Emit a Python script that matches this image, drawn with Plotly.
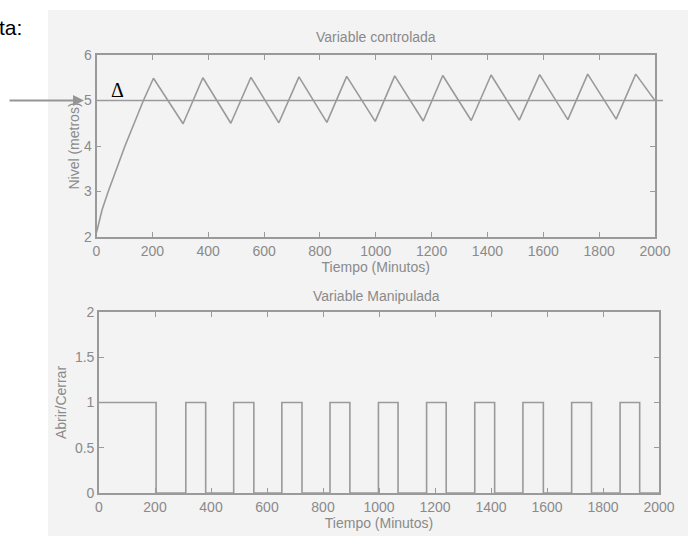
import plotly.graph_objects as go

W, H = 688, 536

# ---- data ----
t_level = [0, 20, 42, 102, 168, 204, 310, 381, 481, 553, 653, 725, 825, 896,
           998, 1068, 1170, 1240, 1342, 1413, 1514, 1587, 1688, 1759, 1861, 1931, 2000]
level = [2.1, 2.6, 3.0, 4.0, 5.0, 5.49, 4.49, 5.50, 4.50, 5.51, 4.51, 5.52, 4.52, 5.53,
         4.54, 5.54, 4.55, 5.55, 4.56, 5.56, 4.57, 5.57, 4.58, 5.58, 4.59, 5.58, 5.0]
setpoint = 5

t_valve = [0, 204, 310, 381, 481, 553, 653, 725, 825, 896, 998, 1068, 1170, 1240,
           1342, 1413, 1514, 1587, 1688, 1759, 1861, 1931, 2000]
valve = [1, 0, 1, 0, 1, 0, 1, 0, 1, 0, 1, 0, 1, 0, 1, 0, 1, 0, 1, 0, 1, 0, 0]

x_ticks = [0, 200, 400, 600, 800, 1000, 1200, 1400, 1600, 1800, 2000]
y1_ticks = [2, 3, 4, 5, 6]
y2_ticks = [0, 0.5, 1, 1.5, 2]
y2_labels = ["0", "0.5", "1", "1.5", "2"]

LINE = "#9a9a9a"
TXT = "#8a8a8a"
FONT = "Liberation Sans, Arial, sans-serif"

def px_x(p):
    return p / W

def px_y(p):
    return 1 - p / H

fig = go.Figure()
fig.add_trace(go.Scatter(x=t_level, y=level, mode="lines",
                         line=dict(color=LINE, width=1.6), xaxis="x", yaxis="y",
                         showlegend=False, hoverinfo="skip"))
fig.add_trace(go.Scatter(x=t_valve, y=valve, mode="lines", line_shape="hv",
                         line=dict(color=LINE, width=1.6), xaxis="x2", yaxis="y2",
                         showlegend=False, hoverinfo="skip"))

axis_common = dict(showline=True, linecolor=LINE, linewidth=1.6, mirror="ticks",
                   ticks="inside", ticklen=5, tickcolor=LINE, tickwidth=1.2,
                   showgrid=False, zeroline=False, automargin=False,
                   tickfont=dict(family=FONT, size=14, color=TXT))

fig.update_layout(
    width=W, height=H,
    margin=dict(l=0, r=0, t=0, b=0, autoexpand=False),
    paper_bgcolor="white", plot_bgcolor="rgba(0,0,0,0)",
    font=dict(family=FONT, color=TXT),
    xaxis=dict(domain=[px_x(96.5), px_x(655)], range=[0, 2000], tickvals=x_ticks,
               anchor="y", **axis_common,
               title=dict(text="Tiempo (Minutos)", font=dict(size=14, color=TXT), standoff=2)),
    yaxis=dict(domain=[px_y(237), px_y(55)], range=[2, 6], tickvals=y1_ticks,
               anchor="x", **axis_common,
               title=dict(text="Nivel (metros)", font=dict(size=14, color=TXT), standoff=1)),
    xaxis2=dict(domain=[px_x(99), px_x(659)], range=[0, 2000], tickvals=x_ticks,
                anchor="y2", **axis_common,
                title=dict(text="Tiempo (Minutos)", font=dict(size=14, color=TXT), standoff=2)),
    yaxis2=dict(domain=[px_y(493), px_y(312)], range=[0, 2], tickvals=y2_ticks,
                ticktext=y2_labels, anchor="x2", **axis_common,
                title=dict(text="Abrir/Cerrar", font=dict(size=14, color=TXT), standoff=5)),
    shapes=[
        dict(type="rect", xref="paper", yref="paper", x0=px_x(48), x1=1, y0=0, y1=px_y(10),
             fillcolor="#f3f3f3", line=dict(width=0), layer="below"),
        dict(type="line", xref="paper", yref="y", x0=px_x(97), x1=px_x(663),
             y0=setpoint, y1=setpoint, line=dict(color=LINE, width=1.3)),
    ],
    annotations=[
        dict(text="Variable controlada", xref="paper", yref="paper", x=px_x(376), y=px_y(37),
             xanchor="center", yanchor="middle",
             showarrow=False, font=dict(family=FONT, size=14, color=TXT)),
        dict(text="Variable Manipulada", xref="paper", yref="paper", x=px_x(376), y=px_y(296),
             xanchor="center", yanchor="middle",
             showarrow=False, font=dict(family=FONT, size=14, color=TXT)),
        dict(text="ta:", xref="paper", yref="paper", x=px_x(-3), y=px_y(27),
             xanchor="left", yanchor="middle",
             showarrow=False, font=dict(family=FONT, size=21, color="black")),
        dict(text="Δ", xref="paper", yref="paper", x=px_x(117), y=px_y(90),
             xanchor="center", yanchor="middle",
             showarrow=False, font=dict(family="Liberation Serif, DejaVu Serif, serif",
                                        size=20, color="black")),
        dict(text="", xref="paper", yref="y", x=px_x(84), y=setpoint, ax=-76, ay=0,
             showarrow=True, arrowhead=2, arrowsize=1, arrowwidth=2.2, arrowcolor="#959595"),
    ],
)

fig.write_html("out.html", config={"displayModeBar": False},
               post_script="document.body.style.margin='0';document.body.style.overflow='hidden';")
